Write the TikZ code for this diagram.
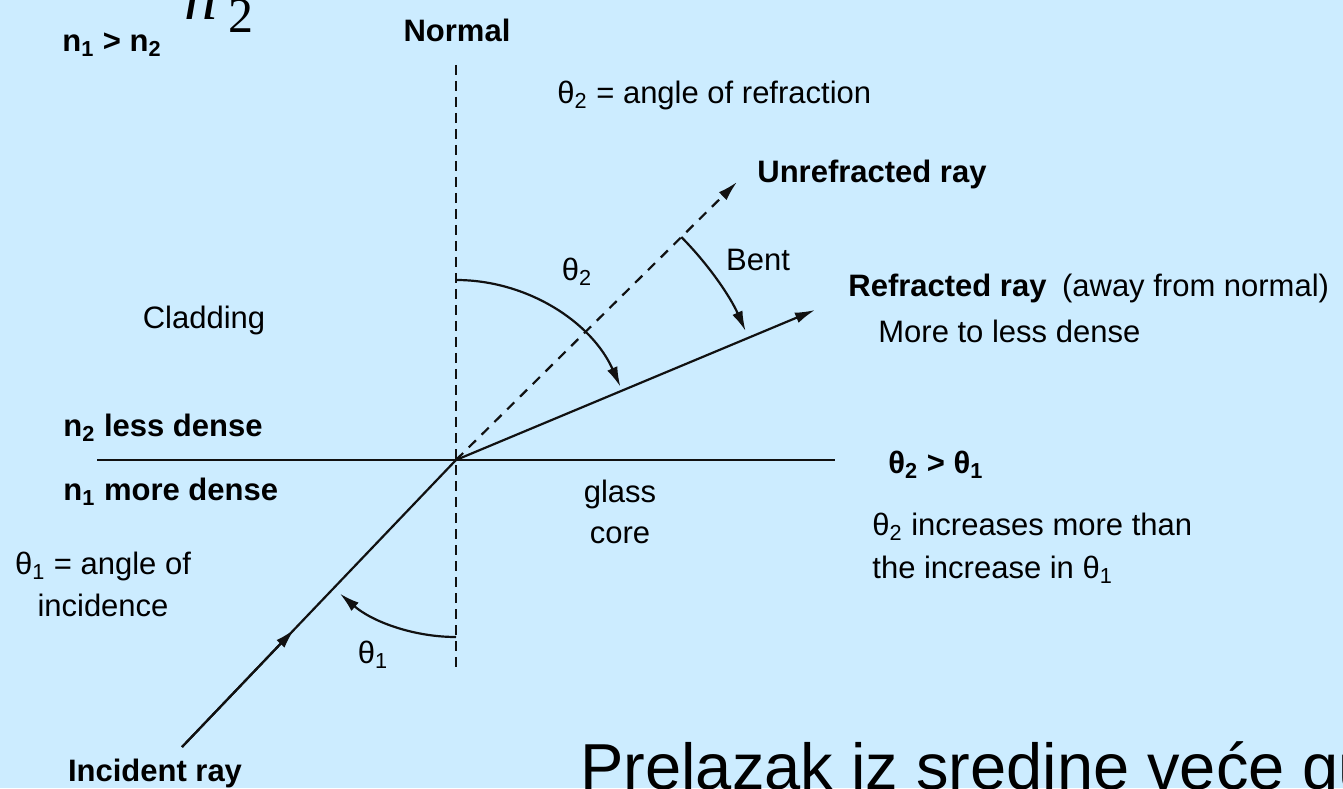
\documentclass[tikz,border=0pt]{standalone}
\usepackage{fontspec}
\setmainfont{Liberation Sans}
\newfontfamily\timesit{Liberation Serif}
\usetikzlibrary{arrows.meta,calc}
\definecolor{SlideBlue}{HTML}{CCECFF}
\definecolor{RayInk}{HTML}{111111}

\begin{document}
\begin{tikzpicture}[x=.5pt,y=.5pt]
  \path[use as bounding box] (0,0) rectangle (1343,788);
  \clip (0,0) rectangle (1343,788);
  \fill[SlideBlue] (0,0) rectangle (1343,788);

  \tikzset{
    refrRay/.style={
      draw=RayInk,
      line width=1.1pt
    },
    refrDash/.style={
      refrRay,
      dash pattern=on 5pt off 3pt
    },
    refrTip/.style={
      -{Latex[length=10pt,width=5.5pt]}
    },
    refrLabel/.style={
      inner sep=0pt,
      text=black,
      font=\fontsize{15.5}{20.5}\selectfont
    },
    refrBold/.style={
      refrLabel,
      font=\fontsize{15.5}{20.5}\selectfont\bfseries
    }
  }

  % point of incidence, interface and normal
  \coordinate (hit) at (456,328);
  \coordinate (faceLeft) at (97,328);
  \coordinate (faceRight) at (835,328);
  \coordinate (normTop) at (456,723);
  \coordinate (normBottom) at (456,120);
  \coordinate (incStart) at (182,41);
  \coordinate (refrEnd) at (815,478);
  \coordinate (unrefEnd) at (737,606);

  \draw[refrRay] (faceLeft) -- (faceRight);
  \draw[refrDash] (normTop) -- (normBottom);

  % rays
  \draw[refrRay] (incStart) -- (hit);
  \draw[refrRay,refrTip] (incStart) -- ($(incStart)!0.41!(hit)$);
  \draw[refrRay,refrTip] (hit) -- (refrEnd);
  \draw[refrDash,dash pattern=on 5pt off 4pt,refrTip] (hit) -- (unrefEnd);

  % angle arcs
  \draw[refrRay,refrTip] ($(hit)+(90:180)$) arc[start angle=90,end angle=24,radius=180];
  \draw[refrRay,refrTip] ($(hit)+(270:177)$) arc[start angle=270,end angle=229,radius=177];
  \draw[refrRay,refrTip] ($(hit)+(44.7:317)$) arc[start angle=44.7,end angle=24,radius=317];

  % labels
  \node[anchor=base west,inner sep=0pt,font=\timesit\itshape\fontsize{33}{33}\selectfont]
    (bigN) at (184,768) {n};
  \node[anchor=base west,inner sep=0pt,font=\timesit\fontsize{25}{25}\selectfont]
    (bigSub) at (228,755) {2};
  \node[refrBold] (ratio) at (112,743) {n\textsubscript{1} > n\textsubscript{2}};
  \node[refrBold] (normal) at (457,758) {Normal};
  \node[refrLabel,anchor=west] (refrDef) at (557,693)
    {θ\textsubscript{2} = angle of refraction};
  \node[refrBold,anchor=west] (unrefLbl) at (757,614) {Unrefracted ray};
  \node[refrLabel] (thTwo) at (577,516) {θ\textsubscript{2}};
  \node[refrLabel] (bent) at (758,528) {Bent};
  \node[refrLabel,anchor=west] (refrLbl) at (848,500)
    {\textbf{Refracted ray}\hspace{.5em}(away from normal)};
  \node[refrLabel,anchor=west] (moreLess) at (878,457) {More to less dense};
  \node[refrLabel] (cladding) at (204,468) {Cladding};
  \node[refrBold,anchor=west] (lessDense) at (63,360) {n\textsubscript{2} less dense};
  \node[refrBold,anchor=west] (moreDense) at (63,296) {n\textsubscript{1} more dense};
  \node[refrLabel,align=center] (core) at (620,276) {glass\\core};
  \node[refrBold,anchor=west] (compare) at (888,323) {θ\textsubscript{2} > θ\textsubscript{1}};
  \node[refrLabel,align=left,anchor=west,font=\fontsize{15.5}{21.5}\selectfont] (increase) at (872,240)
    {θ\textsubscript{2} increases more than\\the increase in θ\textsubscript{1}};
  \node[refrLabel,align=center,font=\fontsize{15.5}{21}\selectfont] (incDef) at (103,204)
    {θ\textsubscript{1} = angle of\\incidence};
  \node[refrLabel] (thOne) at (373,133) {θ\textsubscript{1}};
  \node[refrBold] (incLbl) at (155,15) {Incident ray};
  \node[anchor=base west,inner sep=0pt,font=\fontsize{32.5}{32.5}\selectfont]
    (caption) at (580,-1) {Prelazak iz sredine veće gustine};
\end{tikzpicture}
\end{document}
